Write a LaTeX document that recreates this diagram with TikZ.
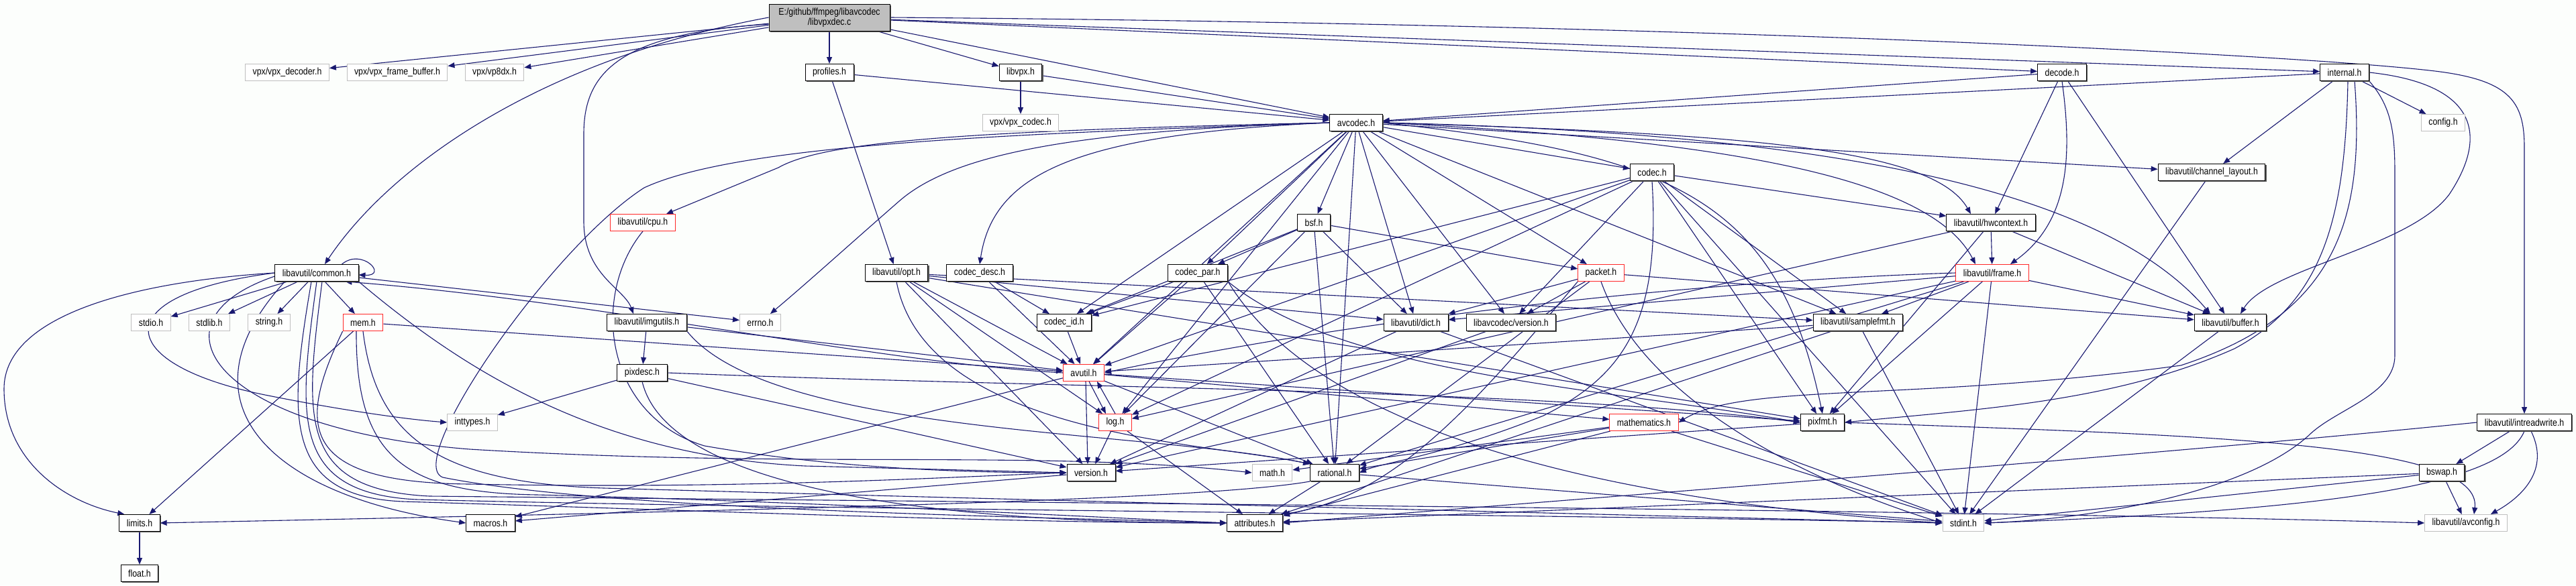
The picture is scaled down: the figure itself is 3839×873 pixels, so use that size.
\documentclass[tikz,border=0pt]{standalone}
\usepackage{fontspec}
\setmainfont{Liberation Sans}[FakeStretch=0.85]
\usetikzlibrary{arrows.meta,calc,shadows}
\definecolor{edgec}{RGB}{25,25,112}
\definecolor{bgc}{RGB}{252,254,252}
\definecolor{grayb}{RGB}{191,191,191}
\definecolor{redb}{RGB}{255,40,40}
\definecolor{mainfill}{RGB}{191,191,191}
\newcommand\nfont{\fontsize{14.5}{15.5}\selectfont}
\pgfdeclarelayer{bglayer}
\pgfdeclarelayer{edgelayer}
\pgfsetlayers{bglayer,edgelayer,main}
\tikzset{
  basebox/.style={rectangle, fill=white, inner xsep=11pt, inner ysep=2pt, minimum height=25pt, font=\nfont, line width=1pt},
  nodebox/.style={basebox, draw=black, drop shadow={shadow xshift=1.6pt, shadow yshift=-1.6pt, fill=black!65, opacity=1}},
  redbox/.style={basebox, draw=redb},
  graybox/.style={basebox, draw=grayb},
  mainbox/.style={nodebox, fill=mainfill, minimum height=40pt, minimum width=180pt, align=center},
  dep/.style={draw=edgec, line width=1.1pt, -{Triangle[length=10pt,width=8pt]}}
}
\begin{document}
\begin{tikzpicture}[x=1pt,y=-1pt]
\useasboundingbox (0,0) rectangle (3839,873);
% ---------- nodes ----------
\node[mainbox] (main) at (1236,26) {E:/github/ffmpeg/libavcodec\\/libvpxdec.c};
\node[graybox] (vpxdec) at (428,108) {vpx/vpx\_decoder.h};
\node[graybox] (vpxfb) at (592,108) {vpx/vpx\_frame\_buffer.h};
\node[graybox] (vp8dx) at (737,108) {vpx/vp8dx.h};
\node[nodebox] (profiles) at (1236,108) {profiles.h};
\node[nodebox] (libvpx) at (1521,108) {libvpx.h};
\node[nodebox] (decode) at (3073,108) {decode.h};
\node[nodebox] (internal) at (3494,108) {internal.h};
\node[graybox] (vpxcodec) at (1521,183) {vpx/vpx\_codec.h};
\node[nodebox] (avcodec) at (2021,183) {avcodec.h};
\node[graybox] (config) at (3641,183) {config.h};
\node[nodebox] (codec) at (2462,257) {codec.h};
\node[nodebox] (chlayout) at (3296,257) {libavutil/channel\_layout.h};
\node[redbox] (cpu) at (958,332) {libavutil/cpu.h};
\node[nodebox] (bsf) at (1958,332) {bsf.h};
\node[nodebox] (hwctx) at (2967,332) {libavutil/hwcontext.h};
\node[nodebox] (common) at (472,407) {libavutil/common.h};
\node[nodebox] (opt) at (1336,407) {libavutil/opt.h};
\node[nodebox] (cdesc) at (1460,407) {codec\_desc.h};
\node[nodebox] (cpar) at (1785,407) {codec\_par.h};
\node[redbox] (packet) at (2386,407) {packet.h};
\node[redbox] (frame) at (2969,407) {libavutil/frame.h};
\node[graybox] (stdio) at (225,481) {stdio.h};
\node[graybox] (stdlib) at (312,481) {stdlib.h};
\node[graybox] (string) at (401,481) {string.h};
\node[redbox] (mem) at (541,481) {mem.h};
\node[nodebox] (imgutils) at (964,481) {libavutil/imgutils.h};
\node[graybox] (errno) at (1133,481) {errno.h};
\node[nodebox] (cid) at (1586,481) {codec\_id.h};
\node[nodebox] (dict) at (2110,481) {libavutil/dict.h};
\node[nodebox] (lcver) at (2252,481) {libavcodec/version.h};
\node[nodebox] (sfmt) at (2769,481) {libavutil/samplefmt.h};
\node[nodebox] (buffer) at (3324,481) {libavutil/buffer.h};
\node[nodebox] (pixdesc) at (957,556) {pixdesc.h};
\node[redbox] (avutil) at (1615,556) {avutil.h};
\node[graybox] (inttypes) at (704,630) {inttypes.h};
\node[redbox] (log) at (1662,630) {log.h};
\node[redbox] (mathem) at (2450,630) {mathematics.h};
\node[nodebox] (pixfmt) at (2716,630) {pixfmt.h};
\node[nodebox] (irw) at (3762,630) {libavutil/intreadwrite.h};
\node[nodebox] (version) at (1626,705) {version.h};
\node[graybox] (math) at (1896,705) {math.h};
\node[nodebox] (rational) at (1989,705) {rational.h};
\node[nodebox] (bswap) at (3639,705) {bswap.h};
\node[nodebox] (limits) at (208,780) {limits.h};
\node[nodebox] (macros) at (731,780) {macros.h};
\node[nodebox] (attr) at (1870,780) {attributes.h};
\node[graybox] (stdint) at (2926,780) {stdint.h};
\node[graybox] (avconfig) at (3675,780) {libavutil/avconfig.h};
\node[nodebox] (float) at (208,855) {float.h};
% ---------- background ----------
\begin{pgfonlayer}{bglayer}
\fill[bgc] (0,0) rectangle (3839,873);
\end{pgfonlayer}
% ---------- edges ----------
\begin{pgfonlayer}{edgelayer}
% main file
\draw[dep] (main) -- (vpxdec);
\draw[dep] (main) -- (vpxfb);
\draw[dep] (main) -- (vp8dx);
\draw[dep] (main.west) .. controls (800,90) and (580,250) .. ($(common.north)+(12,0)$);
\draw[dep] ($(main.west)+(0,10)$) .. controls (920,50) and (870,110) .. (870,200) -- (870,330) .. controls (870,410) and (930,430) .. ($(imgutils.north)+(-20,0)$);
\draw[dep] (main.east) .. controls (2500,35) and (3400,80) .. (3620,105) .. controls (3740,118) and (3762,150) .. (3762,220) -- (irw.north);
\draw[dep] (main) -- (profiles);
\draw[dep] (main) -- (libvpx);
\draw[dep] (main) -- (avcodec);
\draw[dep] (main) -- (decode);
\draw[dep] (main) -- (internal);
% profiles, libvpx
\draw[dep] (profiles) -- (avcodec);
\draw[dep] (profiles) -- (opt);
\draw[dep] (libvpx) -- (vpxcodec);
\draw[dep] (libvpx) -- (avcodec);
% decode
\draw[dep] (decode) -- (avcodec);
\draw[dep] (decode) -- (hwctx);
\draw[dep] (decode.south) .. controls (3088,230) and (3085,330) .. ($(frame.north)+(27,0)$);
\draw[dep] (decode) -- (buffer);
% internal
\draw[dep] (internal) -- (avcodec);
\draw[dep] (internal) -- (chlayout);
\draw[dep] (internal) -- (config);
\draw[dep] (internal.east) .. controls (3690,125) and (3710,200) .. (3650,290) .. controls (3590,370) and (3380,400) .. ($(buffer.north)+(15,0)$);
\draw[dep] ($(internal.south)+(5,0)$) .. controls (3495,330) and (3460,450) .. (3330,520) .. controls (3150,600) and (2950,610) .. (pixfmt.east);
\draw[dep] ($(internal.south)+(15,0)$) .. controls (3525,330) and (3480,470) .. (3250,545) .. controls (2850,600) and (2600,570) .. (mathem.east);
\draw[dep] (internal.south east) .. controls (3565,160) and (3569,200) .. (3569,260) -- (3569,530) .. controls (3569,590) and (3480,610) .. (3440,650) .. controls (3340,740) and (3100,775) .. (stdint.east);
% avcodec
\draw[dep] (avcodec.west) .. controls (1600,195) and (1420,230) .. (1340,300) .. controls (1260,370) and (1205,420) .. ($(errno.north)+(15,0)$);
\draw[dep] (avcodec.west) .. controls (1450,195) and (1230,210) .. (1160,250) -- ($(cpu.north)+(35,0)$);
\draw[dep] (avcodec.west) .. controls (1500,200) and (1100,215) .. (960,280) .. controls (820,370) and (600,690) .. (660,712) .. controls (900,760) and (1500,770) .. (attr.west);
\draw[dep] (avcodec) -- (avutil);
\draw[dep] (avcodec.east) .. controls (2800,200) and (3150,300) .. ($(buffer.north)+(-30,0)$);
\draw[dep] (avcodec) -- (chlayout);
\draw[dep] (avcodec) -- (dict);
\draw[dep] (avcodec.east) .. controls (2600,210) and (2880,270) .. ($(frame.north)+(-25,0)$);
\draw[dep] (avcodec.east) .. controls (2600,200) and (2880,220) .. ($(hwctx.north)+(-30,0)$);
\draw[dep] (avcodec) -- (log);
\draw[dep] (avcodec.east) .. controls (2500,230) and (2650,300) .. (pixfmt.north);
\draw[dep] (avcodec) -- (rational);
\draw[dep] (avcodec) -- (sfmt);
\draw[dep] (avcodec) -- (bsf);
\draw[dep] (avcodec) -- (codec);
\draw[dep] (avcodec.west) .. controls (1600,200) and (1480,260) .. (cdesc.north);
\draw[dep] (avcodec) -- (cpar);
\draw[dep] (avcodec) -- (cid);
\draw[dep] (avcodec) -- (packet);
\draw[dep] (avcodec) -- (lcver);
% codec
\draw[dep] (codec) -- (stdint);
\draw[dep] (codec) -- (avutil);
\draw[dep] (codec) -- (hwctx);
\draw[dep] (codec) -- (log);
\draw[dep] (codec) -- (pixfmt);
\draw[dep] (codec.south) .. controls (2475,480) and (2420,560) .. (2300,620) .. controls (2150,680) and (2060,690) .. (rational.east);
\draw[dep] (codec) -- (sfmt);
\draw[dep] (codec) -- (cid);
\draw[dep] (codec) -- (lcver);
% bsf
\draw[dep] (bsf) -- (dict);
\draw[dep] (bsf) -- (log);
\draw[dep] (bsf) -- (rational);
\draw[dep] (bsf) -- (cid);
\draw[dep] (bsf) -- (cpar);
\draw[dep] (bsf) -- (packet);
% codec_desc, codec_par
\draw[dep] (cdesc) -- (avutil);
\draw[dep] (cdesc) -- (cid);
\draw[dep] (cpar.south east) .. controls (2000,700) and (2600,760) .. (stdint.west);
\draw[dep] (cpar) -- (avutil);
\draw[dep] (cpar) -- (rational);
\draw[dep] (cpar.south east) .. controls (2000,560) and (2400,580) .. (pixfmt.west);
\draw[dep] (cpar) -- (cid);
% packet
\draw[dep] (packet.south) .. controls (2450,600) and (2700,720) .. (stdint.west);
\draw[dep] (packet.south west) .. controls (2200,600) and (2080,740) .. (attr.north east);
\draw[dep] (packet) -- (buffer);
\draw[dep] (packet) -- (dict);
\draw[dep] (packet) -- (rational);
\draw[dep] (packet) -- (lcver);
\draw[dep] (lcver) -- (version);
\draw[dep] (cid) -- (avutil);
% hwcontext
\draw[dep] (hwctx) -- (buffer);
\draw[dep] (hwctx) -- (frame);
\draw[dep] (hwctx) -- (log);
\draw[dep] (hwctx) -- (pixfmt);
% frame
\draw[dep] (frame) -- (stdint);
\draw[dep] (frame.west) .. controls (2500,420) and (2000,480) .. (avutil.east);
\draw[dep] (frame) -- (buffer);
\draw[dep] (frame) -- (dict);
\draw[dep] (frame) -- (rational);
\draw[dep] (frame) -- (sfmt);
\draw[dep] (frame) -- (pixfmt);
\draw[dep] (frame) -- (version);
\draw[dep] (chlayout) -- (stdint);
% cpu
\draw[dep] (cpu.south) .. controls (880,440) and (900,620) .. (1050,665) .. controls (1250,700) and (1450,705) .. (version.west);
% opt
\draw[dep] (opt.south) .. controls (1380,650) and (1800,660) .. (rational.north west);
\draw[dep] (opt) -- (avutil);
\draw[dep] (opt) -- (dict);
\draw[dep] (opt) -- (log);
\draw[dep] (opt) -- (pixfmt);
\draw[dep] (opt) -- (sfmt);
\draw[dep] (opt) -- (version);
% imgutils, pixdesc
\draw[dep] (imgutils) -- (avutil);
\draw[dep] (imgutils) -- (pixdesc);
\draw[dep] (imgutils.south east) .. controls (1150,650) and (1700,640) .. (rational.north west);
\draw[dep] (pixdesc) -- (inttypes);
\draw[dep] (pixdesc.south) .. controls (1000,750) and (1500,780) .. (attr.west);
\draw[dep] (pixdesc.east) .. controls (1600,580) and (2300,580) .. (pixfmt.west);
\draw[dep] (pixdesc) -- (version);
% common
\draw[dep] ($(common.north east)+(-25,0)$) .. controls ($(common.north east)+(5,-25)$) and ($(common.east)+(45,5)$) .. ($(common.east)+(0,3)$);
\draw[dep] (common) -- (stdio);
\draw[dep] (common) -- (stdlib);
\draw[dep] (common) -- (string);
\draw[dep] (common) -- (mem);
\draw[dep] (common) -- (errno);
\draw[dep] (common.west) .. controls (150,440) and (170,545) .. (400,590) .. controls (500,610) and (600,625) .. (inttypes.west);
\draw[dep] (common.west) .. controls (200,420) and (6,470) .. (6,580) .. controls (6,690) and (100,750) .. ($(limits.north west)+(8,0)$);
\draw[dep] ($(common.west)+(0,5)$) .. controls (210,480) and (320,640) .. (700,670) .. controls (1200,700) and (1550,670) .. (math.west);
\draw[dep] (common.south) .. controls (445,620) and (430,735) .. (620,745) .. controls (1200,760) and (2400,768) .. (stdint.west);
\draw[dep] ($(common.south)+(-8,0)$) .. controls (430,620) and (420,740) .. (600,748) .. controls (1000,760) and (1500,780) .. (attr.west);
\draw[dep] ($(common.south)+(8,0)$) .. controls (455,620) and (440,730) .. (640,740) .. controls (1800,752) and (3000,762) .. (avconfig.west);
\draw[dep] ($(common.south west)+(15,0)$) .. controls (260,600) and (400,740) .. (macros.west);
\draw[dep] (common.south east) .. controls (700,560) and (900,680) .. (1200,695) -- (version.west);
% mem
\draw[dep] (mem) -- (limits);
\draw[dep] (mem.south) .. controls (560,650) and (650,720) .. (900,728) .. controls (1500,745) and (2500,770) .. (stdint.west);
\draw[dep] ($(mem.south)+(-10,0)$) .. controls (530,680) and (600,735) .. (800,738) .. controls (1200,748) and (1600,770) .. (attr.west);
\draw[dep] (mem) -- (avutil);
\draw[dep] (mem.south west) .. controls (440,640) and (450,720) .. (700,722) .. controls (1100,730) and (1400,712) .. (version.west);
% avutil
\draw[dep] (avutil.west) .. controls (1300,540) and (900,450) .. ($(common.south east)+(-20,0)$);
\draw[dep] (avutil) -- (rational);
\draw[dep] ($(avutil.south)+(3,0)$) -- ($(version.north)+(-5,0)$);
\draw[dep] (avutil) -- (macros);
\draw[dep] (avutil) -- (mathem);
\draw[dep] ($(avutil.south)+(8,0)$) -- ($(log.north)+(-14,0)$);
\draw[dep] (avutil) -- (pixfmt);
% log
\draw[dep] (log.north) -- ($(avutil.south)+(20,0)$);
\draw[dep] (log) -- (attr);
\draw[dep] (log) -- (version);
\draw[dep] (version) -- (macros);
\draw[dep] (limits) -- (float);
% rational
\draw[dep] (rational) -- (stdint);
\draw[dep] (rational.south west) .. controls (1800,745) and (1200,760) .. (limits.east);
\draw[dep] (rational) -- (attr);
% mathematics
\draw[dep] (mathem) -- (stdint);
\draw[dep] (mathem) -- (math);
\draw[dep] (mathem) -- (attr);
\draw[dep] (mathem) -- (rational);
% pixfmt
\draw[dep] (pixfmt.east) .. controls (3300,650) and (3700,660) .. ($(avconfig.north)+(12,0)$);
\draw[dep] (pixfmt) -- (version);
% dict, samplefmt, buffer
\draw[dep] (dict) -- (stdint);
\draw[dep] (dict) -- (version);
\draw[dep] (sfmt) -- (stdint);
\draw[dep] (sfmt) -- (avutil);
\draw[dep] (sfmt) -- (attr);
\draw[dep] (buffer) -- (stdint);
% intreadwrite, bswap
\draw[dep] (irw.south) .. controls (3730,720) and (3500,760) .. (stdint.east);
\draw[dep] ($(irw.south)+(10,0)$) .. controls (3800,700) and (3760,740) .. ($(avconfig.north east)+(-25,0)$);
\draw[dep] (irw.west) .. controls (3200,680) and (2400,740) .. (attr.east);
\draw[dep] (irw) -- (bswap);
\draw[dep] (bswap) -- (stdint);
\draw[dep] (bswap) -- (avconfig);
\draw[dep] (bswap) -- (attr);
\end{pgfonlayer}
\end{tikzpicture}
\end{document}
